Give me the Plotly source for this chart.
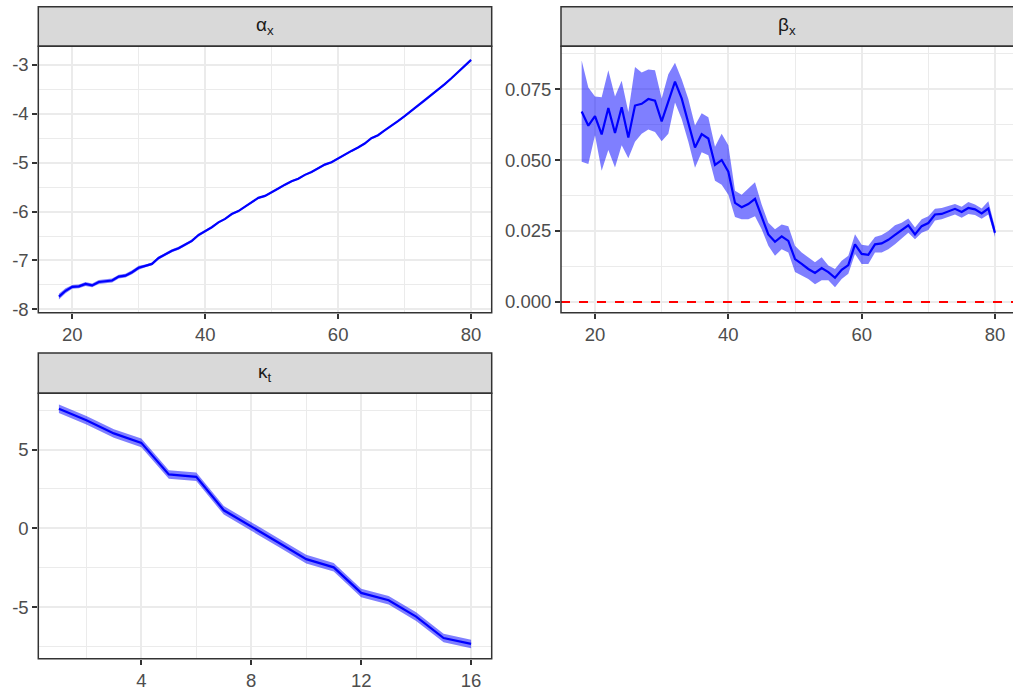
import plotly.graph_objects as go

# ---------------- data ----------------
ages = list(range(18, 81))
alpha = [-7.74,-7.62,-7.54,-7.53,-7.48,-7.51,-7.44,-7.42,-7.41,-7.33,
         -7.31,-7.24,-7.15,-7.11,-7.07,-6.95,-6.88,-6.80,-6.75,-6.68,
         -6.60,-6.48,-6.40,-6.32,-6.22,-6.15,-6.05,-5.99,-5.90,-5.81,
         -5.72,-5.68,-5.61,-5.53,-5.45,-5.38,-5.33,-5.25,-5.19,-5.11,
         -5.04,-4.99,-4.91,-4.83,-4.76,-4.69,-4.61,-4.50,-4.44,-4.34,
         -4.25,-4.15,-4.05,-3.94,-3.84,-3.74,-3.63,-3.51,-3.40,-3.28,
         -3.16,-3.02,-2.90]
alpha_lo = [-7.80,-7.67,-7.58,-7.57,-7.52,-7.55,-7.48,-7.46,-7.45,-7.37,
            -7.35,-7.28,-7.19,-7.14,-7.10,-6.98,-6.91,-6.83,-6.78,-6.71,
            -6.63,-6.51,-6.43,-6.34,-6.24,-6.17,-6.07,-6.01,-5.92,-5.83,
            -5.74,-5.70,-5.63,-5.55,-5.47,-5.40,-5.35,-5.27,-5.21,-5.13,
            -5.06,-5.01,-4.93,-4.85,-4.78,-4.71,-4.63,-4.52,-4.46,-4.36,
            -4.27,-4.17,-4.07,-3.96,-3.86,-3.76,-3.65,-3.53,-3.42,-3.30,
            -3.18,-3.04,-2.92]
alpha_hi = [-7.68,-7.57,-7.50,-7.49,-7.44,-7.47,-7.40,-7.38,-7.37,-7.29,
            -7.27,-7.20,-7.11,-7.08,-7.04,-6.92,-6.85,-6.77,-6.72,-6.65,
            -6.57,-6.45,-6.37,-6.30,-6.20,-6.13,-6.03,-5.97,-5.88,-5.79,
            -5.70,-5.66,-5.59,-5.51,-5.43,-5.36,-5.31,-5.23,-5.17,-5.09,
            -5.02,-4.97,-4.89,-4.81,-4.74,-4.67,-4.59,-4.48,-4.42,-4.32,
            -4.23,-4.13,-4.03,-3.92,-3.82,-3.72,-3.61,-3.49,-3.38,-3.26,
            -3.14,-3.00,-2.88]

beta = [0.0671,0.0621,0.0655,0.0590,0.0683,0.0595,0.0686,0.0579,0.0692,0.0698,
        0.0715,0.0709,0.0636,0.0703,0.0776,0.0717,0.0634,0.0544,0.0591,0.0576,
        0.0483,0.0500,0.0459,0.0349,0.0334,0.0345,0.0363,0.0302,0.0238,0.0212,
        0.0231,0.0215,0.0151,0.0134,0.0116,0.0102,0.0119,0.0105,0.0085,0.0113,
        0.0130,0.0203,0.0169,0.0166,0.0203,0.0206,0.0219,0.0236,0.0253,0.0270,
        0.0238,0.0267,0.0278,0.0308,0.0310,0.0320,0.0328,0.0317,0.0331,0.0326,
        0.0312,0.0329,0.0244]
beta_hi = [0.0851,0.0756,0.0724,0.0721,0.0816,0.0724,0.0779,0.0669,0.0828,0.0808,
           0.0819,0.0816,0.0717,0.0802,0.0843,0.0785,0.0715,0.0622,0.0665,0.0651,
           0.0547,0.0593,0.0552,0.0392,0.0378,0.0401,0.0422,0.0343,0.0279,0.0256,
           0.0273,0.0267,0.0198,0.0174,0.0157,0.0140,0.0157,0.0128,0.0116,0.0145,
           0.0163,0.0238,0.0201,0.0198,0.0229,0.0236,0.0250,0.0270,0.0279,0.0294,
           0.0262,0.0291,0.0302,0.0328,0.0331,0.0337,0.0345,0.0335,0.0352,0.0343,
           0.0329,0.0355,0.0262]
beta_lo = [0.0494,0.0486,0.0587,0.0462,0.0535,0.0474,0.0552,0.0506,0.0564,0.0593,
           0.0608,0.0599,0.0566,0.0593,0.0703,0.0645,0.0564,0.0473,0.0527,0.0517,
           0.0427,0.0413,0.0378,0.0299,0.0291,0.0291,0.0302,0.0256,0.0198,0.0163,
           0.0186,0.0174,0.0105,0.0093,0.0081,0.0062,0.0076,0.0076,0.0052,0.0081,
           0.0099,0.0169,0.0134,0.0134,0.0174,0.0174,0.0186,0.0203,0.0224,0.0244,
           0.0221,0.0244,0.0253,0.0287,0.0291,0.0300,0.0308,0.0297,0.0310,0.0306,
           0.0293,0.0308,0.0229]

years = list(range(1, 17))
kappa = [7.58,6.85,6.02,5.42,3.42,3.27,1.15,0.15,-0.90,-1.94,-2.46,-4.08,-4.54,-5.58,-6.94,-7.31]
kappa_hi = [7.85,7.12,6.29,5.69,3.69,3.54,1.42,0.42,-0.63,-1.67,-2.19,-3.81,-4.27,-5.31,-6.67,-7.04]
kappa_lo = [7.31,6.58,5.75,5.15,3.15,3.00,0.88,-0.12,-1.17,-2.21,-2.73,-4.35,-4.81,-5.85,-7.21,-7.58]

strip_labels = ["α<sub>x</sub>", "β<sub>x</sub>", "κ<sub>t</sub>"]

age_ticks = [20, 40, 60, 80]
age_ticktext = ["20", "40", "60", "80"]
age_minor = [10, 30, 50, 70, 90]
alpha_ticks = [-8, -7, -6, -5, -4, -3]
alpha_ticktext = ["-8", "-7", "-6", "-5", "-4", "-3"]
alpha_minor = [-7.5, -6.5, -5.5, -4.5, -3.5, -2.5]
beta_ticks = [0.0, 0.025, 0.05, 0.075]
beta_ticktext = ["0.000", "0.025", "0.050", "0.075"]
beta_minor = [0.0125, 0.0375, 0.0625, 0.0875]
year_ticks = [4, 8, 12, 16]
year_ticktext = ["4", "8", "12", "16"]
year_minor = [2, 6, 10, 14]
kappa_ticks = [-5, 0, 5]
kappa_ticktext = ["-5", "0", "5"]
kappa_minor = [-7.5, -2.5, 2.5, 7.5]

# ---------------- style ----------------
W, H = 1013, 693
BLUE = "#0000FF"
RIB = "rgba(0,0,255,0.5)"
GRID = "#EBEBEB"
DARK = "#333333"
FONT = "Liberation Sans, Arial, sans-serif"

def px_x(p):
    return p / W

def px_y(p):
    return (H - p) / H

panels = {
    1: dict(x=(38.3, 491.7), y=(46.7, 316.0), strip=(6.7, 46.7)),
    2: dict(x=(561.0, 1013.0), y=(46.7, 316.0), strip=(6.7, 46.7)),
    3: dict(x=(38.3, 491.7), y=(397.3, 665.5), strip=(356.7, 397.3)),
}

fig = go.Figure()

def add_band(x, lo, hi, xa, ya):
    fig.add_trace(go.Scatter(x=x, y=lo, mode="lines", line=dict(width=0, color=RIB),
                             xaxis=xa, yaxis=ya, showlegend=False, hoverinfo="skip"))
    fig.add_trace(go.Scatter(x=x, y=hi, mode="lines", line=dict(width=0, color=RIB),
                             fill="tonexty", fillcolor=RIB,
                             xaxis=xa, yaxis=ya, showlegend=False, hoverinfo="skip"))

def add_line(x, y, xa, ya):
    fig.add_trace(go.Scatter(x=x, y=y, mode="lines", line=dict(width=2.2, color=BLUE),
                             xaxis=xa, yaxis=ya, showlegend=False))

# panel 1
add_band(ages, alpha_lo, alpha_hi, "x", "y")
add_line(ages, alpha, "x", "y")
# panel 2
fig.add_trace(go.Scatter(x=[14.9, 83.1], y=[0, 0], mode="lines",
                         line=dict(color="#FF0000", width=2, dash="dash"),
                         xaxis="x2", yaxis="y2", showlegend=False, hoverinfo="skip"))
add_band(ages, beta_lo, beta_hi, "x2", "y2")
add_line(ages, beta, "x2", "y2")
# panel 3
add_band(years, kappa_lo, kappa_hi, "x3", "y3")
add_line(years, kappa, "x3", "y3")

def axis(domain, rng, tickvals, ticktext, minor_vals, anchor):
    return dict(
        domain=domain, range=rng, anchor=anchor,
        tickmode="array", tickvals=tickvals, ticktext=ticktext,
        showgrid=True, gridcolor=GRID, gridwidth=2,
        zeroline=False, showline=False,
        ticks="outside", ticklen=5, tickwidth=1.5, tickcolor=DARK,
        tickfont=dict(family=FONT, size=18.5, color="#4D4D4D"),
        minor=dict(tickmode="array", tickvals=minor_vals, showgrid=True,
                   gridcolor=GRID, gridwidth=1, ticks=""),
        fixedrange=True,
    )

p1, p2, p3 = panels[1], panels[2], panels[3]
layout = dict(
    width=W, height=H, margin=dict(l=0, r=0, t=0, b=0),
    paper_bgcolor="white", plot_bgcolor="white",
    font=dict(family=FONT),
    showlegend=False,
    xaxis=axis([px_x(p1["x"][0]), px_x(p1["x"][1])], [14.9, 83.1], age_ticks, age_ticktext, age_minor, "y"),
    yaxis=axis([px_y(p1["y"][1]), px_y(p1["y"][0])], [-8.07, -2.62], alpha_ticks, alpha_ticktext, alpha_minor, "x"),
    xaxis2=axis([px_x(p2["x"][0]), 1.0], [14.9, 82.7], age_ticks, age_ticktext, age_minor, "y2"),
    yaxis2=axis([px_y(p2["y"][1]), px_y(p2["y"][0])], [-0.00384, 0.0901], beta_ticks, beta_ticktext, beta_minor, "x2"),
    xaxis3=axis([px_x(p3["x"][0]), px_x(p3["x"][1])], [0.25, 16.75], year_ticks, year_ticktext, year_minor, "y3"),
    yaxis3=axis([px_y(p3["y"][1]), px_y(p3["y"][0])], [-8.25, 8.56], kappa_ticks, kappa_ticktext, kappa_minor, "x3"),
)
fig.update_layout(**layout)

shapes = []
annotations = []
for i, key in enumerate([1, 2, 3]):
    p = panels[key]
    x0, x1 = px_x(p["x"][0]), px_x(p["x"][1])
    if key == 2:
        x1 = 1.02
    # strip
    shapes.append(dict(type="rect", xref="paper", yref="paper",
                       x0=x0, x1=x1, y0=px_y(p["strip"][1]), y1=px_y(p["strip"][0]),
                       fillcolor="#D9D9D9", line=dict(color=DARK, width=1.5), layer="above"))
    # panel border
    shapes.append(dict(type="rect", xref="paper", yref="paper",
                       x0=x0, x1=x1, y0=px_y(p["y"][1]), y1=px_y(p["y"][0]),
                       fillcolor="rgba(0,0,0,0)", line=dict(color=DARK, width=1.5), layer="above"))
    annotations.append(dict(xref="paper", yref="paper",
                            x=(px_x(p["x"][0]) + px_x(p["x"][1])) / 2,
                            y=(px_y(p["strip"][0]) + px_y(p["strip"][1])) / 2,
                            text=strip_labels[i], showarrow=False,
                            font=dict(family=FONT, size=19, color="#1A1A1A"),
                            xanchor="center", yanchor="middle"))
fig.update_layout(shapes=shapes, annotations=annotations)

fig.write_html("out.html", post_script="document.body.style.margin='0px';",
               config={"displayModeBar": False})
